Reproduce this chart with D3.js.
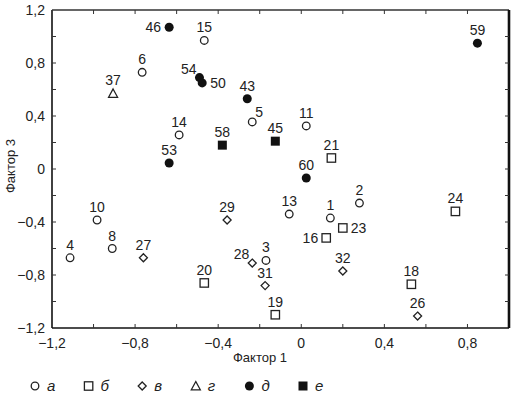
<!DOCTYPE html>
<html>
<head>
<meta charset="utf-8">
<script src="https://cdn.jsdelivr.net/npm/d3@7"></script>
<style>
  body { margin: 0; background: #fff; }
  text { font-family: "Liberation Sans", Arial, sans-serif; fill: #222; }
</style>
</head>
<body>
<svg id="chart" width="514" height="395"></svg>
<script>
// groups: а, б, в, г, д, е
const groups = ["а", "б", "в", "г", "д", "е"]
const groupShape = ["circle", "square", "diamond", "triangle", "dot", "block"]

// [id, factor 1, factor 3, group index]
const points = [
  [46, -0.636, 1.07, 4], [15, -0.467, 0.97, 0], [6, -0.766, 0.73, 0],
  [37, -0.906, 0.57, 3], [54, -0.49, 0.69, 4], [50, -0.477, 0.65, 4],
  [43, -0.26, 0.53, 4], [5, -0.236, 0.355, 0], [14, -0.588, 0.257, 0],
  [58, -0.38, 0.18, 5], [53, -0.636, 0.045, 4], [59, 0.848, 0.95, 4],
  [11, 0.024, 0.325, 0], [45, -0.125, 0.21, 5], [21, 0.145, 0.083, 1],
  [60, 0.024, -0.068, 4], [2, 0.28, -0.257, 0], [24, 0.742, -0.32, 1],
  [13, -0.058, -0.34, 0], [1, 0.14, -0.37, 0], [23, 0.2, -0.445, 1],
  [16, 0.12, -0.52, 1], [3, -0.17, -0.69, 0], [32, 0.2, -0.77, 2],
  [31, -0.174, -0.88, 2], [18, 0.53, -0.87, 1], [19, -0.125, -1.10, 1],
  [26, 0.56, -1.11, 2], [28, -0.236, -0.71, 2], [29, -0.357, -0.385, 2],
  [20, -0.467, -0.86, 1], [27, -0.76, -0.67, 2], [10, -0.983, -0.385, 0],
  [8, -0.91, -0.60, 0], [4, -1.113, -0.67, 0]
]

const xTicks = [-1.2, -0.8, -0.4, 0, 0.4, 0.8]
const yTicks = [-1.2, -0.8, -0.4, 0, 0.4, 0.8, 1.2]

// label placement other than "above"
const labelSide = { 46: "l", 54: "tl", 50: "r", 5: "tr", 23: "r", 16: "l", 28: "tl" }

const svg = d3.select("#chart")
const x = d3.scaleLinear().domain([-1.2, 1.0]).range([52, 509])
const y = d3.scaleLinear().domain([-1.2, 1.2]).range([328, 10])
const fmt = d => d === 0 ? "0" : d3.format(".1f")(d).replace(".", ",").replace("-", "\u2212")

const minor = d3.range(-1.2, 1.001, 0.2).map(d => +d.toFixed(1))

// frame
const g = svg.append("g")
g.append("line").attr("x1", x(-1.2)).attr("x2", x(-1.2)).attr("y1", y(1.2)).attr("y2", y(-1.2))
  .attr("stroke", "#111").attr("stroke-width", 1.6)
g.append("line").attr("x1", x(-1.2)).attr("x2", x(1.0)).attr("y1", y(-1.2)).attr("y2", y(-1.2))
  .attr("stroke", "#111").attr("stroke-width", 1.6)
g.append("line").attr("x1", x(-1.2)).attr("x2", x(1.0)).attr("y1", y(1.2)).attr("y2", y(1.2))
  .attr("stroke", "#333").attr("stroke-width", 1.3)
g.append("line").attr("x1", x(1.0)).attr("x2", x(1.0)).attr("y1", y(1.2)).attr("y2", y(-1.2))
  .attr("stroke", "#111").attr("stroke-width", 2.6)

// inward ticks on all sides
const xm = minor.filter(d => d > -1.2 && d < 1.0)
const ym = minor.filter(d => d > -1.2 && d < 1.2)
g.selectAll(".tb").data(xm).enter().append("line")
  .attr("x1", d => x(d)).attr("x2", d => x(d)).attr("y1", y(-1.2)).attr("y2", y(-1.2) - 4)
  .attr("stroke", "#333")
g.selectAll(".tt").data(xm).enter().append("line")
  .attr("x1", d => x(d)).attr("x2", d => x(d)).attr("y1", y(1.2)).attr("y2", y(1.2) + 4)
  .attr("stroke", "#333")
g.selectAll(".tl").data(ym).enter().append("line")
  .attr("x1", x(-1.2)).attr("x2", x(-1.2) + 4).attr("y1", d => y(d)).attr("y2", d => y(d))
  .attr("stroke", "#333")
g.selectAll(".tr").data(ym).enter().append("line")
  .attr("x1", x(1.0)).attr("x2", x(1.0) - 4).attr("y1", d => y(d)).attr("y2", d => y(d))
  .attr("stroke", "#333")

// tick labels
g.selectAll(".xl").data(xTicks).enter().append("text")
  .attr("x", d => x(d)).attr("y", 348).attr("text-anchor", "middle")
  .style("font-size", "14px").text(fmt)
g.selectAll(".yl").data(yTicks).enter().append("text")
  .attr("x", 45).attr("y", d => y(d) + 5).attr("text-anchor", "end")
  .style("font-size", "14px").text(fmt)

svg.append("text").attr("x", 260).attr("y", 362).attr("text-anchor", "middle")
  .style("font-size", "13px").text("Фактор 1")
svg.append("text").attr("transform", "translate(15,166) rotate(-90)").attr("text-anchor", "middle")
  .style("font-size", "13px").text("Фактор 3")

// markers
function drawMarker(sel, shape, cx, cy) {
  const sw = 1.3
  if (shape === "circle") {
    sel.append("circle").attr("cx", cx).attr("cy", cy).attr("r", 3.8)
      .attr("fill", "#fff").attr("stroke", "#222").attr("stroke-width", sw)
  } else if (shape === "dot") {
    sel.append("circle").attr("cx", cx).attr("cy", cy).attr("r", 4.5).attr("fill", "#111")
  } else if (shape === "square") {
    sel.append("rect").attr("x", cx - 4.2).attr("y", cy - 4.2).attr("width", 8.4).attr("height", 8.4)
      .attr("fill", "#fff").attr("stroke", "#222").attr("stroke-width", sw)
  } else if (shape === "block") {
    sel.append("rect").attr("x", cx - 4.5).attr("y", cy - 4.5).attr("width", 9).attr("height", 9)
      .attr("fill", "#111")
  } else if (shape === "diamond") {
    sel.append("path").attr("d", `M${cx},${cy - 4}L${cx + 4},${cy}L${cx},${cy + 4}L${cx - 4},${cy}Z`)
      .attr("fill", "#fff").attr("stroke", "#222").attr("stroke-width", sw)
  } else if (shape === "triangle") {
    sel.append("path").attr("d", `M${cx},${cy - 4.5}L${cx + 4.5},${cy + 3.8}L${cx - 4.5},${cy + 3.8}Z`)
      .attr("fill", "#fff").attr("stroke", "#222").attr("stroke-width", sw)
  }
}

const pg = svg.append("g")
points.forEach(p => {
  const cx = x(p[1]), cy = y(p[2])
  drawMarker(pg, groupShape[p[3]], cx, cy)
  const side = labelSide[p[0]] || "t"
  let tx = cx, ty = cy - 8, anchor = "middle"
  if (side === "l") { tx = cx - 8; ty = cy + 5; anchor = "end" }
  if (side === "r") { tx = cx + 8; ty = cy + 5; anchor = "start" }
  if (side === "tl") { tx = cx - 3; ty = cy - 4; anchor = "end" }
  if (side === "tr") { tx = cx + 3; ty = cy - 5; anchor = "start" }
  pg.append("text").attr("x", tx).attr("y", ty).attr("text-anchor", anchor)
    .style("font-size", "14px").text(p[0])
})

// legend
const lg = svg.append("g")
groups.forEach((name, i) => {
  const lx = 35 + i * 53.6
  drawMarker(lg, groupShape[i], lx, 386)
  lg.append("text").attr("x", lx + 12).attr("y", 391)
    .style("font-size", "15px").style("font-style", "italic").text(name)
})
</script>
</body>
</html>
